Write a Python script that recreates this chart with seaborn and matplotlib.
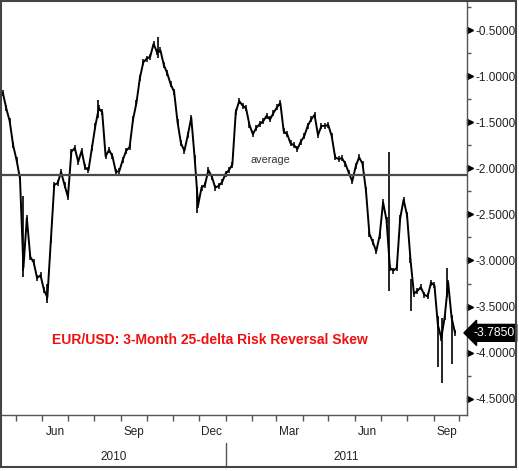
import matplotlib
matplotlib.use("Agg")
import numpy as np
import pandas as pd
import matplotlib.pyplot as plt
import matplotlib.dates as mdates
import matplotlib.transforms as mtransforms
from matplotlib.patches import Rectangle
import seaborn as sns

# ---------------- data ----------------
start_date = "2010-04-16"
step_days = 4
skew_values = [
    -1.18, -1.35, -1.49, -1.75, -1.91, -2.11, -3.08, -2.54, -2.96, -3.02,
    -3.19, -3.16, -3.32, -3.40, -2.78, -2.18, -2.16, -2.04, -2.18, -2.31,
    -1.82, -1.78, -1.93, -1.81, -1.99, -2.02, -1.78, -1.54, -1.35, -1.39,
    -1.87, -1.80, -1.87, -2.04, -2.03, -1.91, -1.81, -1.77, -1.47, -1.29,
    -1.02, -0.85, -0.81, -0.79, -0.65, -0.74, -0.72, -0.88, -0.97, -1.09,
    -1.17, -1.50, -1.73, -1.81, -1.64, -1.45, -1.89, -2.40, -2.21, -2.18,
    -2.02, -2.09, -2.21, -2.19, -2.15, -2.06, -2.02, -1.96, -1.39, -1.27,
    -1.32, -1.35, -1.53, -1.63, -1.56, -1.52, -1.49, -1.43, -1.47, -1.40,
    -1.34, -1.29, -1.60, -1.63, -1.73, -1.75, -1.79, -1.71, -1.65, -1.54,
    -1.47, -1.42, -1.64, -1.54, -1.54, -1.53, -1.65, -1.88, -1.90, -1.89,
    -1.95, -2.05, -2.14, -1.98, -1.88, -1.95, -2.24, -2.71, -2.80, -2.90,
    -2.73, -2.37, -2.56, -3.08, -3.11, -3.08, -2.54, -2.34, -2.51, -2.99,
    -3.36, -3.33, -3.29, -3.37, -3.39, -3.24, -3.27, -3.70, -3.84, -3.61,
    -3.24, -3.62, -3.785,
]

wick_dates = ["2010-05-10", "2010-06-06", "2010-08-05", "2010-10-14", "2010-11-29",
              "2011-07-11", "2011-08-06", "2011-09-06", "2011-09-11", "2011-09-17",
              "2011-09-23"]
wick_high = [-2.30, -3.25, -1.26, -0.58, -2.20, -1.82, -3.20, -3.60, -3.62, -3.08, -3.60]
wick_low = [-3.18, -3.46, -1.45, -0.80, -2.48, -3.33, -3.55, -4.15, -4.33, -3.40, -4.12]

average_value = -2.07
last_value = -3.785
last_label = "-3.7850"
y_major = [-0.5, -1.0, -1.5, -2.0, -2.5, -3.0, -3.5, -4.0, -4.5]
y_minor = [-0.25, -0.75, -1.25, -1.75, -2.25, -2.75, -3.25, -3.75, -4.25]
years = ["2010", "2011"]
title_text = "EUR/USD: 3-Month 25-delta Risk Reversal Skew"

# ---------------- figure ----------------
sns.set_theme(style="white")
plt.rcParams["font.family"] = ["Liberation Sans", "DejaVu Sans"]

W, H = 519, 471
fig = plt.figure(figsize=(W / 100, H / 100), dpi=100)
ax = fig.add_axes([2 / W, 1 - 415 / H, 465 / W, 413 / H])

dates = pd.date_range(start_date, periods=len(skew_values), freq=f"{step_days}D")
df = pd.DataFrame({"date": dates, "skew": skew_values})

sns.lineplot(data=df, x="date", y="skew", ax=ax, color="black", lw=1.4,
             estimator=None, marker="|", markersize=5, markeredgewidth=1.1,
             markeredgecolor="black")
ax.vlines(pd.to_datetime(wick_dates), wick_low, wick_high, color="black", lw=1.2)
ax.axhline(average_value, color="#4a4a4a", lw=1.6)

x0 = pd.Timestamp("2010-04-15")
x1 = pd.Timestamp("2011-10-10")
ax.set_xlim(x0, x1)
ax.set_ylim(-4.676, -0.196)
ax.set_xlabel("")
ax.set_ylabel("")

# spines
for s in ["left", "top"]:
    ax.spines[s].set_visible(False)
for s in ["right", "bottom"]:
    ax.spines[s].set_color("#555555")
    ax.spines[s].set_linewidth(1.0)

# x axis: month ticks, labels mid-month
ax.xaxis.set_major_locator(mdates.MonthLocator())
ax.xaxis.set_major_formatter(plt.NullFormatter())
ax.xaxis.set_minor_locator(mdates.MonthLocator(bymonth=[3, 6, 9, 12], bymonthday=16))
ax.xaxis.set_minor_formatter(mdates.DateFormatter("%b"))
ax.tick_params(axis="x", which="major", direction="out", length=4, width=1,
               color="#555555", bottom=True)
ax.tick_params(axis="x", which="minor", length=0, pad=8, labelsize=8.5,
               labelcolor="#222222", bottom=True)

# y axis on the right
ax.yaxis.tick_right()
ax.set_yticks(y_major)
ax.set_yticks(y_minor, minor=True)
ax.set_yticklabels([f"{v:.4f}" for v in y_major])
ax.tick_params(axis="y", which="major", length=0, pad=6, labelsize=8.5,
               labelcolor="#222222", right=True, left=False)
ax.tick_params(axis="y", which="minor", direction="out", length=3, width=1,
               color="#555555", right=True, left=False)
ax.grid(False)

# triangle markers at major y ticks
ytrans = mtransforms.blended_transform_factory(ax.transAxes, ax.transData)
ax.plot([1.0075] * len(y_major), y_major, ls="none", marker=">", ms=5,
        color="black", transform=ytrans, clip_on=False)

# last value box
ax.text(1.013, last_value, last_label, transform=ytrans, color="white",
        fontsize=8.8, va="center", ha="left", clip_on=False,
        bbox=dict(boxstyle="larrow,pad=0.2", fc="black", ec="black"))

# average label and title
ax.text(0.535, 0.617, "average", transform=ax.transAxes, fontsize=7.8,
        color="#333333", ha="left", va="center")
ax.text(0.447, 0.182, title_text, transform=ax.transAxes, fontsize=10,
        fontweight="bold", color="#ee1111", ha="center", va="center")

# year labels and separator
xr0, xr1 = mdates.date2num(x0), mdates.date2num(x1)
jan = mdates.date2num(pd.Timestamp("2011-01-01"))
xtf = mtransforms.blended_transform_factory(ax.transData, fig.transFigure)
ax.plot([pd.Timestamp("2011-01-01")] * 2, [1 - 443 / H, 1 - 467 / H],
        color="#555555", lw=1, transform=xtf, clip_on=False)
year_centers = [(xr0 + jan) / 2, (jan + xr1) / 2]
for yc, lbl in zip(year_centers, years):
    ax.text(mdates.num2date(yc), 1 - 457 / H, lbl, transform=xtf, fontsize=8.5,
            color="#222222", ha="center", va="center")

# outer frame
fig.patches.append(Rectangle((1 / W, 1 - 467 / H), 515 / W, 466 / H,
                             transform=fig.transFigure, fill=False,
                             ec="#444444", lw=1.5))

fig.savefig("out.png", dpi=100)
